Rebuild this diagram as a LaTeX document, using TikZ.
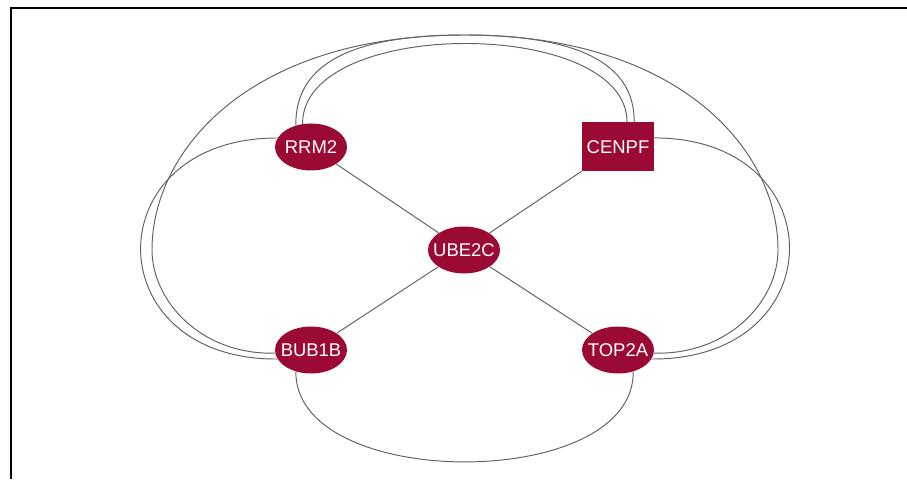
\documentclass[tikz,border=0pt]{standalone}
\usepackage{fontspec}
\setmainfont{Liberation Sans}
\usetikzlibrary{shapes.geometric}
\definecolor{genered}{RGB}{155,10,50}
\newcommand{\gname}[1]{\makebox[0pt][c]{#1}}

\begin{document}
\begin{tikzpicture}[gene/.style={ellipse,fill=genered,minimum width=1.44cm,minimum height=0.94cm,inner sep=0pt,text=white,font=\fontsize{10.5}{12}\selectfont},
  genebox/.style={gene,rectangle,minimum height=0.98cm},
  link/.style={black!62,line width=0.55pt}]
\useasboundingbox (0,0) rectangle (18.14,9.58);
\draw[line width=0.8pt] (0.22,0) -- (0.22,9.42) -- (18.14,9.42);
\node[gene] (rrm2) at (6.22,6.64) {\gname{RRM2}};
\node[genebox] (cenpf) at (12.36,6.64) {\gname{CENPF}};
\node[gene] (ube2c) at (9.28,4.58) {\gname{UBE2C}};
\node[gene] (bub1b) at (6.22,2.58) {\gname{BUB1B}};
\node[gene] (top2a) at (12.36,2.58) {\gname{TOP2A}};
\draw[link] (rrm2) -- (ube2c);
\draw[link] (cenpf) -- (ube2c);
\draw[link] (bub1b) -- (ube2c);
\draw[link] (top2a) -- (ube2c);
\draw[link] (rrm2.165) .. controls (1.90,6.82) and (1.90,2.38) .. (bub1b.195);
\draw[link] (cenpf.14) .. controls (16.70,6.82) and (16.70,2.38) .. (top2a.345);
\draw[link] (bub1b.235) .. controls (5.90,-0.26) and (12.70,-0.26) .. (top2a.305);
\draw[link] (rrm2.110) .. controls (6.04,9.24) and (12.54,9.24) .. (cenpf.70);
\draw[link] (bub1b.185) .. controls (4.00,2.48) and (3.04,3.58) .. (3.04,4.58)
  .. controls (3.04,6.58) and (5.00,8.88) .. (9.30,8.88)
  .. controls (11.50,8.88) and (12.70,8.34) .. (cenpf.57);
\draw[link] (rrm2.125) .. controls (5.90,8.34) and (7.10,8.88) .. (9.30,8.88)
  .. controls (13.60,8.88) and (15.56,6.58) .. (15.56,4.58)
  .. controls (15.56,3.58) and (14.60,2.48) .. (top2a.355);
\end{tikzpicture}
\end{document}
